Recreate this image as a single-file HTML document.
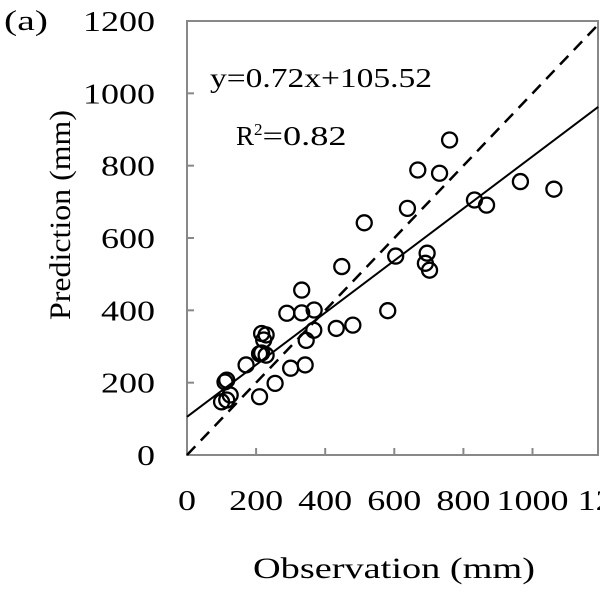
<!DOCTYPE html>
<html><head><meta charset="utf-8"><style>
html,body{margin:0;padding:0;background:#fff;}
svg{display:block;}
svg text{font-family:"Liberation Serif","Times New Roman",serif;}
</style></head><body>
<svg id="chart" width="600" height="600" viewBox="0 0 600 600">
<text x="4" y="30" style="font-size:28px" textLength="44" lengthAdjust="spacingAndGlyphs">(a)</text>
<text transform="translate(70,215) rotate(-90)" text-anchor="middle" style="font-size:30px" textLength="210" lengthAdjust="spacingAndGlyphs">Prediction (mm)</text>
<text x="394" y="578" text-anchor="middle" style="font-size:30px" textLength="282" lengthAdjust="spacingAndGlyphs">Observation (mm)</text>
<text x="210" y="87" style="font-size:27px" textLength="222" lengthAdjust="spacingAndGlyphs">y=0.72x+105.52</text>
<text x="236" y="145" style="font-size:27px"><tspan textLength="18" lengthAdjust="spacingAndGlyphs">R</tspan><tspan style="font-size:17px" dy="-10">2</tspan><tspan dy="10" textLength="84" lengthAdjust="spacingAndGlyphs">=0.82</tspan></text>
<g id="axes"></g>
<g id="marks"></g>
</svg>
<script>
const xTicks = [0,200,400,600,800,1000,1200];
const yTicks = [0,200,400,600,800,1000,1200];
const xTickLabels = ["0","200","400","600","800","1000","12"];
const yTickLabels = ["0","200","400","600","800","1000","1200"];
const observed = [100,115,110,125,115,171,210,216,229,222,216,229,210,255,289,300,332,332,368,342,345,367,432,480,448,513,581,604,638,668,731,760,695,690,702,832,867,965,1062];
const predicted = [147,207,202,166,152,249,161,336,332,318,282,276,280,198,392,240,456,393,401,249,317,345,350,359,521,642,399,550,682,788,779,871,558,530,511,705,691,756,735];
const slope = [0.72];
const intercept = [105.52];

const NS="http://www.w3.org/2000/svg";
const X0=187,X1=598,Y0=455,Y1=21;
function xs(v){return X0+v*0.3455;}
function ys(v){return Y0-v*(Y0-Y1)/1200;}
function mk(tag,attrs,parent){const e=document.createElementNS(NS,tag);for(const k in attrs)e.setAttribute(k,attrs[k]);parent.appendChild(e);return e;}
const axes=document.getElementById('axes'), marks=document.getElementById('marks');

const frame=mk('rect',{x:X0,y:Y1,width:X1-X0,height:Y0-Y1,fill:'none',stroke:'#888','stroke-width':2},axes);



xTicks.forEach((t,i)=>{
  const px=xs(t);
  if(i>0&&i<xTicks.length-1){
    const tk=mk('line',{x1:px,x2:px,y1:Y0,y2:Y0-7,stroke:'#888','stroke-width':2},axes);
    
    
  }
  const lab=xTickLabels[i];
  const last=i===xTicks.length-1;
  const tx=mk('text',{x:last?px-24:px,y:510,'text-anchor':last?'start':'middle',style:'font-size:28px',textLength:18*lab.length,lengthAdjust:'spacingAndGlyphs'},axes);
  tx.textContent=lab;
  
  
});
yTicks.forEach((t,i)=>{
  const py=ys(t);
  if(i>0&&i<yTicks.length-1){
    const tk=mk('line',{x1:X0,x2:X0+7,y1:py,y2:py,stroke:'#888','stroke-width':2},axes);
    
    
  }
  const lab=yTickLabels[i];
  const tx=mk('text',{x:155,y:py+10,'text-anchor':'end',style:'font-size:28px',textLength:18*lab.length,lengthAdjust:'spacingAndGlyphs'},axes);
  tx.textContent=lab;
  
  
});

const oneToOne=mk('line',{x1:xs(0),y1:ys(0),x2:xs(1190),y2:ys(1190),stroke:'#000','stroke-width':2.5,'stroke-dasharray':'12,8'},marks);


const xe=1190;
const fit=mk('line',{x1:xs(0),y1:ys(intercept[0]),x2:xs(xe),y2:ys(slope[0]*xe+intercept[0]),stroke:'#000','stroke-width':2},marks);



observed.forEach((o,i)=>{
  const c=mk('circle',{cx:xs(o),cy:ys(predicted[i]),r:7.5,fill:'none',stroke:'#000','stroke-width':2.3},marks);
  
  
});
</script>
</body></html>
